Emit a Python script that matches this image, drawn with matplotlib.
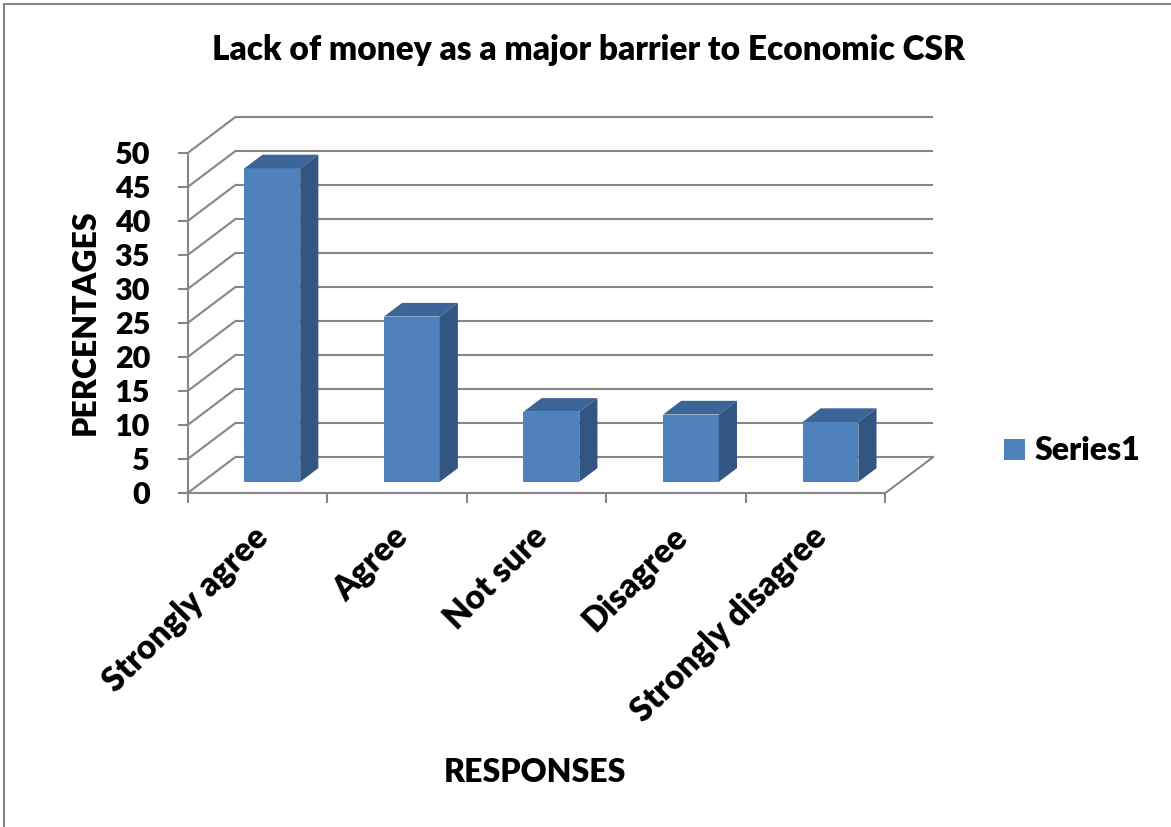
import matplotlib
matplotlib.use("Agg")
import matplotlib.pyplot as plt
from matplotlib.lines import Line2D
from matplotlib.transforms import ScaledTranslation

# ---------------- data ----------------
categories = ["Strongly agree", "Agree", "Not sure", "Disagree", "Strongly disagree"]
values = [46.1, 24.3, 10.3, 9.9, 8.8]
yticks = list(range(0, 55, 5))
title = "Lack of money as a major barrier to Economic CSR"
series_name = "Series1"

# ---------------- style ----------------
plt.rcParams["font.family"] = ["Lato", "DejaVu Sans"]
W = 800
plt.rcParams["font.weight"] = W
GRID = "#868686"
FRONT = "#4F81BD"
TOP = "#3B6596"
SIDE = "#335581"

# depth of the pseudo-3D box in data units (x: categories, y: percent)
DX, DY = 0.342, 5.29
BAR_W = 0.40
D0, D1 = 0.31, 0.69          # bar front / back depth fraction
XMIN, XMAX = -0.5, len(categories) - 0.5
YMAX = yticks[-1]

fig = plt.figure(figsize=(11.71, 8.27), dpi=100)
ax = fig.add_axes([0.1603, 0.4039, 0.639, 0.4612])
ax.set_xlim(XMIN, XMAX + DX + 0.02)
ax.set_ylim(0, YMAX + DY + 0.8)
ax.patch.set_visible(False)

# back wall gridlines and left wall diagonals
for v in yticks:
    ax.plot([XMIN + DX, XMAX + DX], [v + DY, v + DY], color=GRID, lw=1.5,
            zorder=1, solid_capstyle="butt")
    ax.plot([XMIN, XMIN + DX], [v, v + DY], color=GRID, lw=1.5, zorder=1)
# floor right edge
ax.plot([XMAX, XMAX + DX], [0, DY], color=GRID, lw=1.5, zorder=1)

# bars: front face via ax.bar, top/side faces as parallelograms
xs = [i + D0 * DX for i in range(len(values))]
ax.bar(xs, values, width=BAR_W, bottom=D0 * DY, color=FRONT, zorder=3,
       label=series_name)
dd = D1 - D0
for x, v in zip(xs, values):
    x0, x1 = x - BAR_W / 2, x + BAR_W / 2
    y0, y1 = D0 * DY, D0 * DY + v
    ax.fill([x0, x1, x1 + dd * DX, x0 + dd * DX],
            [y1, y1, y1 + dd * DY, y1 + dd * DY], color=TOP, lw=0, zorder=3)
    ax.fill([x1, x1 + dd * DX, x1 + dd * DX, x1],
            [y0, y0 + dd * DY, y1 + dd * DY, y1], color=SIDE, lw=0, zorder=3)

# front axes
for s in ("top", "right"):
    ax.spines[s].set_visible(False)
for s in ("left", "bottom"):
    ax.spines[s].set_color(GRID)
    ax.spines[s].set_linewidth(1.5)
ax.spines["left"].set_bounds(0, YMAX)
ax.spines["bottom"].set_bounds(XMIN, XMAX)

ax.set_yticks(yticks)
ax.set_yticklabels([str(t) for t in yticks], fontsize=22, fontweight=W)
ax.tick_params(axis="y", length=7, width=1.5, color=GRID, pad=20)

ax.set_xticks([i - 0.5 for i in range(len(categories) + 1)], minor=True)
ax.set_xticks(range(len(categories)))
ax.set_xticklabels(categories, fontsize=24, fontweight=W, rotation=45,
                   ha="right", va="center", rotation_mode="anchor")
ax.tick_params(axis="x", which="major", length=0, pad=28)
ax.tick_params(axis="x", which="minor", length=7, width=1.5, color=GRID)
for lab in ax.get_xticklabels():
    lab.set_transform(lab.get_transform() +
                      ScaledTranslation(0.06, 0, fig.dpi_scale_trans))

# texts
fig.text(588 / 1171, 1 - 50 / 827, title, ha="center", va="center",
         fontsize=24, fontweight=W)
fig.text(85 / 1171, 1 - 322 / 827, "PERCENTAGES", rotation=90, ha="center",
         va="center", fontsize=23, fontweight=W)
fig.text(535 / 1171, 1 - 772 / 827, "RESPONSES", ha="center", va="center",
         fontsize=23, fontweight=W)

ax.legend(loc="center left", bbox_to_anchor=(1004 / 1171, 1 - 451 / 827),
          bbox_transform=fig.transFigure, frameon=False, fontsize=23,
          handlelength=0.66, handleheight=0.66, handletextpad=0.3,
          borderaxespad=0, borderpad=0)

# chart area border (left and top only are visible)
fig.add_artist(Line2D([4 / 1171, 4 / 1171], [0, 1 - 4 / 827],
                      color=GRID, lw=1.5, transform=fig.transFigure))
fig.add_artist(Line2D([4 / 1171, 1], [1 - 4 / 827, 1 - 4 / 827],
                      color=GRID, lw=1.5, transform=fig.transFigure))

fig.savefig("out.png", dpi=100)
